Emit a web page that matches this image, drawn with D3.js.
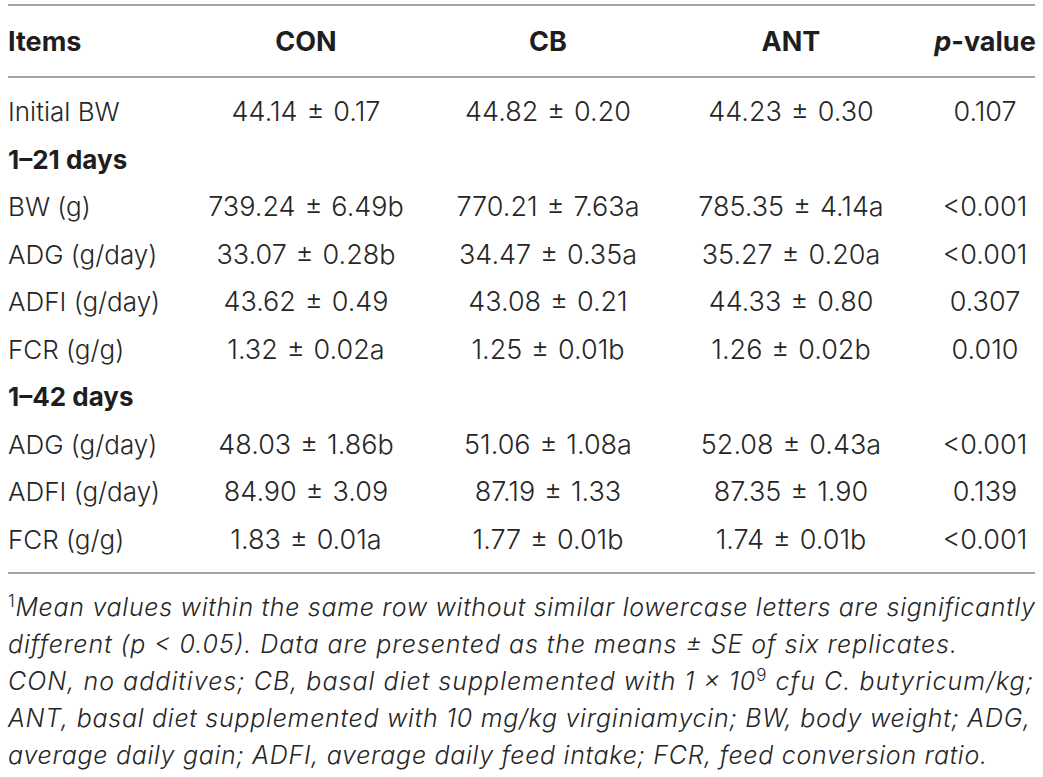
<!DOCTYPE html>
<html>
<head>
<meta charset="utf-8">
<script src="https://cdn.jsdelivr.net/npm/d3@7"></script>
<style>
  body { margin: 0; background: #fff; }
  svg { display: block; }
</style>
</head>
<body>
<script>
// Table values
const columns = ['Items', 'CON', 'CB', 'ANT', 'p-value'];
const rowLabels = ['Initial BW', '1–21 days', 'BW (g)', 'ADG (g/day)', 'ADFI (g/day)', 'FCR (g/g)',
  '1–42 days', 'ADG (g/day)', 'ADFI (g/day)', 'FCR (g/g)'];
const conValues = ['44.14 ± 0.17', null, '739.24 ± 6.49b', '33.07 ± 0.28b', '43.62 ± 0.49', '1.32 ± 0.02a',
  null, '48.03 ± 1.86b', '84.90 ± 3.09', '1.83 ± 0.01a'];
const cbValues = ['44.82 ± 0.20', null, '770.21 ± 7.63a', '34.47 ± 0.35a', '43.08 ± 0.21', '1.25 ± 0.01b',
  null, '51.06 ± 1.08a', '87.19 ± 1.33', '1.77 ± 0.01b'];
const antValues = ['44.23 ± 0.30', null, '785.35 ± 4.14a', '35.27 ± 0.20a', '44.33 ± 0.80', '1.26 ± 0.02b',
  null, '52.08 ± 0.43a', '87.35 ± 1.90', '1.74 ± 0.01b'];
const pValues = ['0.107', null, '<0.001', '<0.001', '0.307', '0.010', null, '<0.001', '0.139', '<0.001'];

const width = 1043, height = 777;
const left = 8, right = 1035;

const svg = d3.select('body').append('svg')
  .attr('width', width)
  .attr('height', height);

// Column centres (Items is left aligned)
const colX = d3.scaleOrdinal()
  .domain(columns)
  .range([left, 306, 548, 791, 985]);

// Rows
const rowY = d3.scaleBand()
  .domain(d3.range(rowLabels.length))
  .range([88, 563]);

const ruleColor = '#a3a3a3';
const textColor = '#262626';
const bodyFont = 'Inter, "Liberation Sans", sans-serif';

// Horizontal rules
for (let y of [5, 77, 573]) {
  svg.append('line')
    .attr('x1', left).attr('x2', right)
    .attr('y1', y).attr('y2', y)
    .attr('stroke', ruleColor)
    .attr('stroke-width', 2);
}

// Header
let header = svg.append('g')
  .attr('font-family', bodyFont)
  .attr('font-weight', 700)
  .attr('font-size', 27)
  .attr('fill', '#1e1e1e');

header.selectAll('text')
  .data(columns)
  .join('text')
  .attr('x', d => colX(d))
  .attr('y', 51)
  .attr('text-anchor', (d, i) => i == 0 ? 'start' : 'middle')
  .each(function(d) {
    let t = d3.select(this);
    if (d == 'p-value') {
      t.append('tspan').attr('font-style', 'italic').text('p');
      t.append('tspan').text('-value');
    } else {
      t.text(d);
    }
  });

// Body rows
let rows = rowLabels.map((label, i) => ({
  i: i,
  label: label,
  section: conValues[i] == null,
  cells: [conValues[i], cbValues[i], antValues[i], pValues[i]]
}));

let body = svg.append('g')
  .attr('font-family', bodyFont)
  .attr('font-weight', 300)
  .attr('font-size', 26)
  .attr('fill', textColor);

let row = body.selectAll('g.row')
  .data(rows)
  .join('g')
  .attr('class', 'row')
  .attr('transform', d => 'translate(0,' + (rowY(d.i) + rowY.bandwidth() / 2 + 9.5) + ')');

row.append('text')
  .attr('x', left)
  .attr('font-weight', d => d.section ? 700 : null)
  .attr('fill', d => d.section ? '#1e1e1e' : null)
  .text(d => d.label);

row.filter(d => !d.section)
  .selectAll('text.cell')
  .data(d => d.cells.map((v, k) => ({col: columns[k + 1], v: v})))
  .join('text')
  .attr('class', 'cell')
  .attr('x', d => colX(d.col))
  .attr('text-anchor', 'middle')
  .attr('font-size', 27)
  .attr('word-spacing', 1.5)
  .text(d => d.v);

// Footnote
const noteLines = [
  [['sup', '1'], ['', 'Mean values within the same row without similar lowercase letters are significantly']],
  [['', 'different (p < 0.05). Data are presented as the means ± SE of six replicates.']],
  [['', 'CON, no additives; CB, basal diet supplemented with 1 × 10'], ['sup', '9'], ['', ' cfu C. butyricum/kg;']],
  [['', 'ANT, basal diet supplemented with 10 mg/kg virginiamycin; BW, body weight; ADG,']],
  [['', 'average daily gain; ADFI, average daily feed intake; FCR, feed conversion ratio.']]
];
// Line lengths as set in the reference (ragged right)
const noteWidths = [1027, 949, 1025, 1022, 979];

let note = svg.append('g')
  .attr('font-family', bodyFont)
  .attr('font-weight', 300)
  .attr('font-size', 25)
  .attr('fill', textColor);

note.selectAll('text')
  .data(noteLines)
  .join('text')
  .attr('x', left)
  .attr('y', (d, i) => 616 + i * 37)
  .attr('textLength', (d, i) => noteWidths[i])
  .attr('lengthAdjust', 'spacing')
  .each(function(parts) {
    let t = d3.select(this);
    let shift = 0;
    for (let [kind, s] of parts) {
      if (kind == 'sup') {
        t.append('tspan')
          .attr('dy', -9)
          .attr('font-size', 17)
          .text(s);
        shift = 9;
      } else {
        t.append('tspan')
          .attr('dy', shift)
          .attr('font-style', 'italic')
          .text(s);
        shift = 0;
      }
    }
  });
</script>
</body>
</html>
